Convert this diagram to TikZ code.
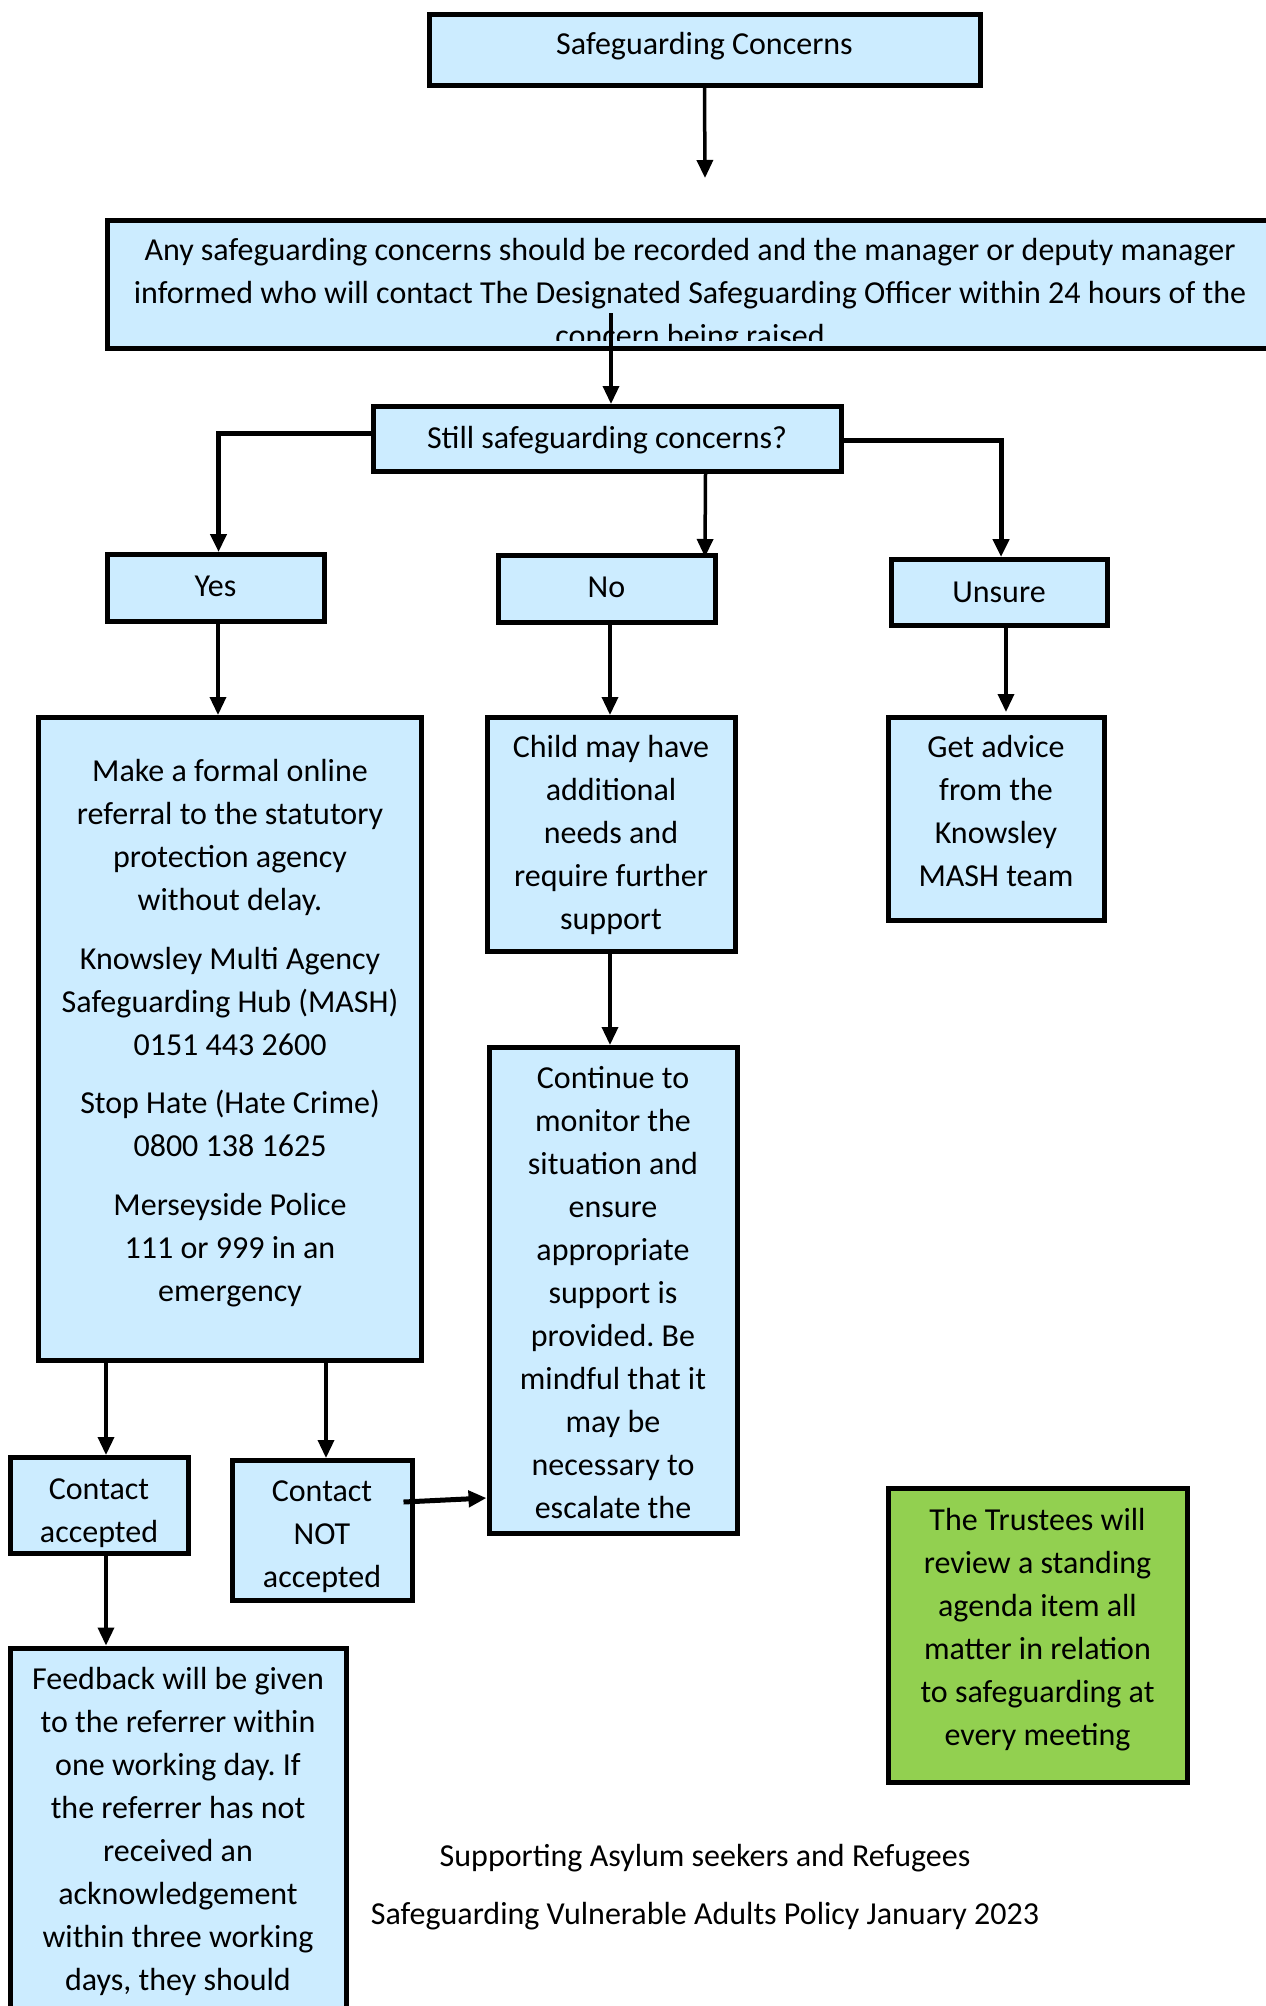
\documentclass[tikz,border=0pt]{standalone}
\usepackage{fontspec}
\setmainfont{Carlito}
\usetikzlibrary{arrows.meta}
\definecolor{boxblue}{HTML}{CCECFF}
\definecolor{boxgreen}{HTML}{92D050}
\frenchspacing
\begin{document}
\begin{tikzpicture}[x=1pt,y=-1pt,
  box/.style={draw=black, line width=5pt, fill=boxblue, rectangle, inner sep=0pt},
  gbox/.style={box, fill=boxgreen},
  txt/.style={align=center, anchor=base, inner sep=0pt, font=\fontsize{32}{43}\selectfont},
  arr/.style={line width=3.5pt, -{Triangle[length=18pt,width=16pt]}},
  arrthick/.style={line width=5pt, -{Triangle[length=18pt,width=16pt]}}
]
\useasboundingbox (0,0) rectangle (1266,2006);
\clip (0,0) rectangle (1266,2006);
\fill[white] (0,0) rectangle (1266,2006);

% boxes
\node[box, minimum width=551pt, minimum height=71pt] (sc) at (704.5,50) {};
\node[box, minimum width=1180pt, minimum height=128pt] (big) at (697.5,284.5) {};
\node[box, minimum width=468pt, minimum height=65pt] (still) at (607,439) {};
\node[box, minimum width=217pt, minimum height=67pt] (yes) at (215.5,588) {};
\node[box, minimum width=217pt, minimum height=67pt] (no) at (606.5,589) {};
\node[box, minimum width=216pt, minimum height=66pt] (unsure) at (999,592.5) {};
\node[box, minimum width=383pt, minimum height=643pt] (make) at (230,1039) {};
\node[box, minimum width=248pt, minimum height=234pt] (child) at (611,834.5) {};
\node[box, minimum width=216pt, minimum height=203pt] (advice) at (996,819) {};
\node[box, minimum width=248pt, minimum height=486pt] (cont) at (613,1290.5) {};
\node[box, minimum width=178pt, minimum height=96pt] (acc) at (99,1505.5) {};
\node[box, minimum width=180pt, minimum height=140pt] (notacc) at (322,1530.5) {};
\node[box, minimum width=336pt, minimum height=380pt] (feed) at (178,1838) {};
\node[gbox, minimum width=299pt, minimum height=294pt] (green) at (1037.5,1635.5) {};

% texts (anchor base = baseline of the last line)
\node[txt] (sctxt) at (704.5,54) {Safeguarding Concerns};
\begin{scope}
\clip (105,218) rectangle (1266,340);
\node[txt] (bigtxt) at (690,346) {Any safeguarding concerns should be recorded and the manager or deputy manager\\informed who will contact The Designated Safeguarding Officer within 24 hours of the\\concern being raised};
\end{scope}
\node[txt] (stilltxt) at (607,448) {Still safeguarding concerns?};
\node[txt] (yestxt) at (215.5,596) {Yes};
\node[txt] (notxt) at (606.5,597) {No};
\node[txt] (unsuretxt) at (999,602) {Unsure};
\node[txt] (maketxt) at (230,1301) {Make a formal online\\referral to the statutory\\protection agency\\without delay.\\[15.5pt]Knowsley Multi Agency\\Safeguarding Hub (MASH)\\0151 443 2600\\[15.5pt]Stop Hate (Hate Crime)\\0800 138 1625\\[15.5pt]Merseyside Police\\111 or 999 in an\\emergency};
\node[txt] (childtxt) at (611,929) {Child may have\\additional\\needs and\\require further\\support};
\node[txt] (advicetxt) at (996,886) {Get advice\\from the\\Knowsley\\MASH team};
\node[txt] (conttxt) at (613,1518) {Continue to\\monitor the\\situation and\\ensure\\appropriate\\support is\\provided. Be\\mindful that it\\may be\\necessary to\\escalate the};
\node[txt] (acctxt) at (99,1542) {Contact\\accepted};
\node[txt] (notacctxt) at (322,1587) {Contact\\NOT\\accepted};
\node[txt] (feedtxt) at (178,1990) {Feedback will be given\\to the referrer within\\one working day. If\\the referrer has not\\received an\\acknowledgement\\within three working\\days, they should};
\node[txt] (greentxt) at (1037.5,1745) {The Trustees will\\review a standing\\agenda item all\\matter in relation\\to safeguarding at\\every meeting};
\node[txt] (foot1) at (705,1866) {Supporting Asylum seekers and Refugees};
\node[txt] (foot2) at (705,1924) {Safeguarding Vulnerable Adults Policy January 2023};

% connectors
\coordinate (t1) at (705,178);
\draw[arr] (sc.south) -- (t1);
\coordinate (s2) at (611,313);
\draw[arr] (s2) -- (s2 |- still.north);
\draw[arrthick] (still.west |- 0,433) -| ([xshift=3pt]yes.north);
\draw[arrthick] (still.east |- 0,440) -| ([xshift=2pt]unsure.north);
\draw[arr, shorten >=-4pt] ([xshift=98.5pt]still.south) -- ([xshift=98.5pt]no.north);
\draw[arr] ([xshift=2.5pt]yes.south) -- ([xshift=2.5pt]yes.south |- make.north);
\draw[arr] ([xshift=3.5pt]no.south) -- ([xshift=3.5pt]no.south |- child.north);
\draw[arr, shorten >=3pt] ([xshift=7pt,yshift=4pt]unsure.south) -- ([xshift=7pt]unsure.south |- advice.north);
\draw[arr] ([xshift=-1pt]child.south) -- ([xshift=-1pt]child.south |- cont.north);
\draw[arr] ([xshift=7pt]acc.north |- make.south) -- ([xshift=7pt]acc.north);
\draw[arr] ([xshift=4pt]notacc.north |- make.south) -- ([xshift=4pt]notacc.north);
\draw[arrthick] ([xshift=-11pt,yshift=28.5pt]notacc.east) -- (cont.west |- 0,1498);
\draw[arr] ([xshift=7pt]acc.south) -- ([xshift=7pt]acc.south |- feed.north);
\end{tikzpicture}
\end{document}
